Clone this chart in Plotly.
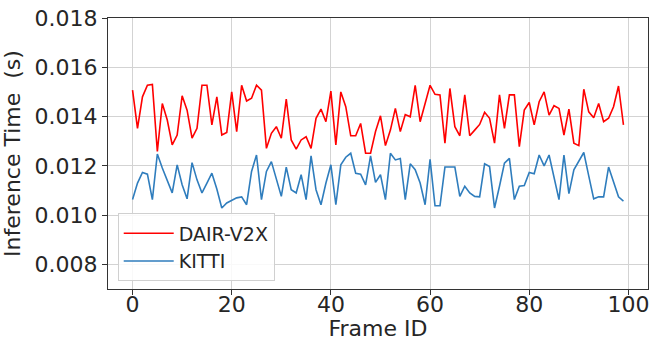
import plotly.graph_objects as go

frames = list(range(100))

dair_v2x = [
    0.01507, 0.01352, 0.01480, 0.01527, 0.01530, 0.01258, 0.01453, 0.01386, 0.01285, 0.01325,
    0.01484, 0.01426, 0.01312, 0.01352, 0.01527, 0.01527, 0.01366, 0.01480, 0.01325, 0.01335,
    0.01500, 0.01339, 0.01527, 0.01463, 0.01474, 0.01527, 0.01507, 0.01271, 0.01332, 0.01359,
    0.01312, 0.01471, 0.01305, 0.01268, 0.01305, 0.01318, 0.01271, 0.01393, 0.01430, 0.01379,
    0.01503, 0.01285, 0.01500, 0.01440, 0.01322, 0.01322, 0.01372, 0.01251, 0.01251, 0.01339,
    0.01403, 0.01282, 0.01345, 0.01433, 0.01339, 0.01408, 0.01399, 0.01527, 0.01379, 0.01455,
    0.01527, 0.01490, 0.01488, 0.01292, 0.01514, 0.01359, 0.01322, 0.01488, 0.01322, 0.01345,
    0.01368, 0.01417, 0.01393, 0.01292, 0.01488, 0.01352, 0.01488, 0.01488, 0.01278, 0.01426,
    0.01457, 0.01366, 0.01460, 0.01500, 0.01406, 0.01444, 0.01433, 0.01325, 0.01430, 0.01292,
    0.01282, 0.01511, 0.01419, 0.01395, 0.01453, 0.01379, 0.01393, 0.01440, 0.01524, 0.01366,
]

kitti = [
    0.01063, 0.01130, 0.01173, 0.01166, 0.01063, 0.01248, 0.01191, 0.01143, 0.01090, 0.01204,
    0.01123, 0.01066, 0.01213, 0.01143, 0.01090, 0.01130, 0.01170, 0.01106, 0.01029, 0.01049,
    0.01060, 0.01070, 0.01074, 0.01042, 0.01177, 0.01244, 0.01063, 0.01177, 0.01217, 0.01143,
    0.01076, 0.01195, 0.01103, 0.01090, 0.01164, 0.01063, 0.01240, 0.01103, 0.01042, 0.01130,
    0.01204, 0.01042, 0.01204, 0.01235, 0.01251, 0.01170, 0.01166, 0.01123, 0.01240, 0.01133,
    0.01164, 0.01063, 0.01251, 0.01224, 0.01230, 0.01063, 0.01208, 0.01184, 0.01130, 0.01042,
    0.01226, 0.01038, 0.01038, 0.01195, 0.01195, 0.01195, 0.01076, 0.01117, 0.01090, 0.01076,
    0.01074, 0.01208, 0.01197, 0.01029, 0.01117, 0.01211, 0.01230, 0.01063, 0.01117, 0.01120,
    0.01173, 0.01168, 0.01244, 0.01200, 0.01244, 0.01159, 0.01063, 0.01244, 0.01087, 0.01184,
    0.01217, 0.01254, 0.01159, 0.01066, 0.01074, 0.01074, 0.01195, 0.01137, 0.01074, 0.01057,
]

y_ticks = [0.008, 0.010, 0.012, 0.014, 0.016, 0.018]
x_ticks = [0, 20, 40, 60, 80, 100]

FONT = "DejaVu Sans"
TXT = "#262626"

fig = go.Figure()
fig.add_trace(go.Scatter(x=frames, y=dair_v2x, mode="lines", name="DAIR-V2X",
                         line=dict(color="#ff0000", width=1.6)))
fig.add_trace(go.Scatter(x=frames, y=kitti, mode="lines", name="KITTI",
                         line=dict(color="#2f7dbd", width=1.6)))

axis_common = dict(showline=True, mirror=True, linecolor="#333333", linewidth=1,
                   ticks="outside", ticklen=5, tickcolor="#333333",
                   showgrid=True, gridcolor="#d3d3d3", gridwidth=1, zeroline=False,
                   automargin=False,
                   tickfont=dict(family=FONT, size=22, color=TXT))

fig.update_xaxes(range=[-4.95, 103.95], tickvals=x_ticks, ticklabelstandoff=-9,
                 title=dict(text="Frame ID", font=dict(family=FONT, size=22, color=TXT)),
                 **axis_common)
fig.update_yaxes(range=[0.007, 0.018], tickvals=y_ticks, tickformat=".3f",
                 title=dict(text="Inference Time\u00a0\u00a0(s)", font=dict(family=FONT, size=22, color=TXT)),
                 **axis_common)

fig.update_layout(
    width=656, height=341,
    margin=dict(l=108, r=8, t=18, b=52),
    paper_bgcolor="white", plot_bgcolor="white",
    font=dict(family=FONT, color=TXT),
    legend=dict(x=0.018, y=0.028, xanchor="left", yanchor="bottom",
                bgcolor="rgba(255,255,255,0.85)", bordercolor="#d0d0d0", borderwidth=1,
                font=dict(family=FONT, size=19, color=TXT), tracegroupgap=0,
                itemwidth=50),
    showlegend=True,
)

fig.write_html("out.html", config={"displayModeBar": False},
               post_script="document.body.style.margin='0';document.body.style.overflow='hidden';")
